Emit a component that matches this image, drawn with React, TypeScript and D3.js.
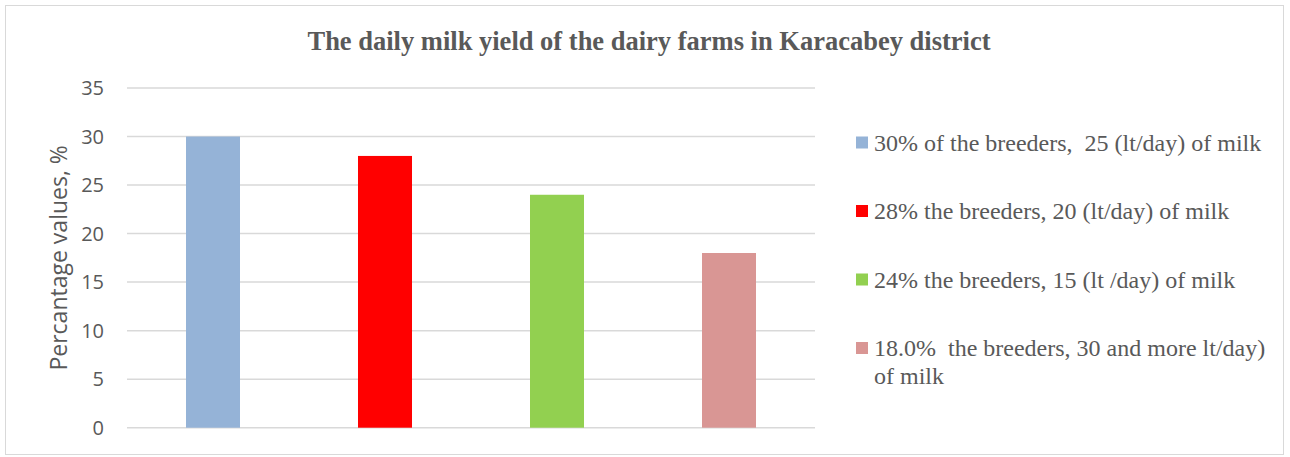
import React, { useEffect, useRef } from "react";
import * as d3 from "d3";

const categories = ["A", "B", "C", "D"];
const values = [30, 28, 24, 18];
const colors = ["#95b3d7", "#ff0000", "#92d050", "#d99694"];
const legendLabels = [
  ["30% of the breeders,  25 (lt/day) of milk"],
  ["28% the breeders, 20 (lt/day) of milk"],
  ["24% the breeders, 15 (lt /day) of milk"],
  ["18.0%  the breeders, 30 and more lt/day)", "of milk"],
];
const yTicks = [0, 5, 10, 15, 20, 25, 30, 35];
const title = "The daily milk yield of the dairy farms in Karacabey district";
const yTitle = "Percantage values, %";

const W = 1290;
const H = 457;

export default function App() {
  const ref = useRef<SVGSVGElement>(null);
  useEffect(() => {
    const svg = d3.select(ref.current);
    svg.selectAll("*").remove();
    const left = 127, right = 815, top = 88, bottom = 427.7;
    const x = d3.scaleBand().domain(categories).range([left, right]).paddingInner(0.686).paddingOuter(0.343);
    const y = d3.scaleLinear().domain([0, 35]).range([bottom, top]);

    svg.append("rect").attr("x", 5.5).attr("y", 5.5).attr("width", 1278).attr("height", 449)
      .attr("fill", "#fff").attr("stroke", "#d9d9d9").attr("stroke-width", 1);

    svg.append("text").attr("x", 649).attr("y", 50).attr("text-anchor", "middle")
      .attr("font-family", "'Liberation Serif', 'Times New Roman', serif").attr("font-weight", "bold")
      .attr("font-size", 26.5).attr("fill", "#595959").text(title);

    const g = svg.append("g");
    g.selectAll("line.grid").data(yTicks).enter().append("line")
      .attr("x1", left).attr("x2", right).attr("y1", (d) => y(d)).attr("y2", (d) => y(d))
      .attr("stroke", "#d9d9d9").attr("stroke-width", 1.5);

    g.selectAll("text.tick").data(yTicks).enter().append("text")
      .attr("x", 104).attr("y", (d) => y(d)).attr("dy", "0.35em").attr("text-anchor", "end")
      .attr("font-family", "'Open Sans', 'Liberation Sans', sans-serif").attr("font-size", 20)
      .attr("fill", "#595959").text((d) => String(d));

    svg.append("text").attr("transform", `translate(67,${(top + bottom) / 2}) rotate(-90)`)
      .attr("text-anchor", "middle").attr("font-family", "'Open Sans', 'Liberation Sans', sans-serif")
      .attr("font-size", 23).attr("fill", "#595959").text(yTitle);

    g.selectAll("rect.bar").data(values).enter().append("rect")
      .attr("x", (_, i) => x(categories[i])!).attr("width", x.bandwidth())
      .attr("y", (d) => y(d)).attr("height", (d) => y(0) - y(d))
      .attr("fill", (_, i) => colors[i]);

    const legY = [142.5, 211, 279.5, 348];
    const lg = svg.append("g");
    legendLabels.forEach((lines, i) => {
      lg.append("rect").attr("x", 856).attr("y", legY[i] - 6).attr("width", 12).attr("height", 12).attr("fill", colors[i]);
      lines.forEach((ln, j) => {
        lg.append("text").attr("x", 874).attr("y", legY[i] + j * 27.5).attr("dy", "0.35em")
          .attr("font-family", "'Liberation Serif', 'Times New Roman', serif").attr("font-size", 24)
          .attr("fill", "#595959").attr("xml:space", "preserve").style("white-space", "pre").text(ln);
      });
    });
  }, []);
  return (
    <svg ref={ref} width={W} height={H} style={{ position: "absolute", left: 0, top: 0 }} />
  );
}
